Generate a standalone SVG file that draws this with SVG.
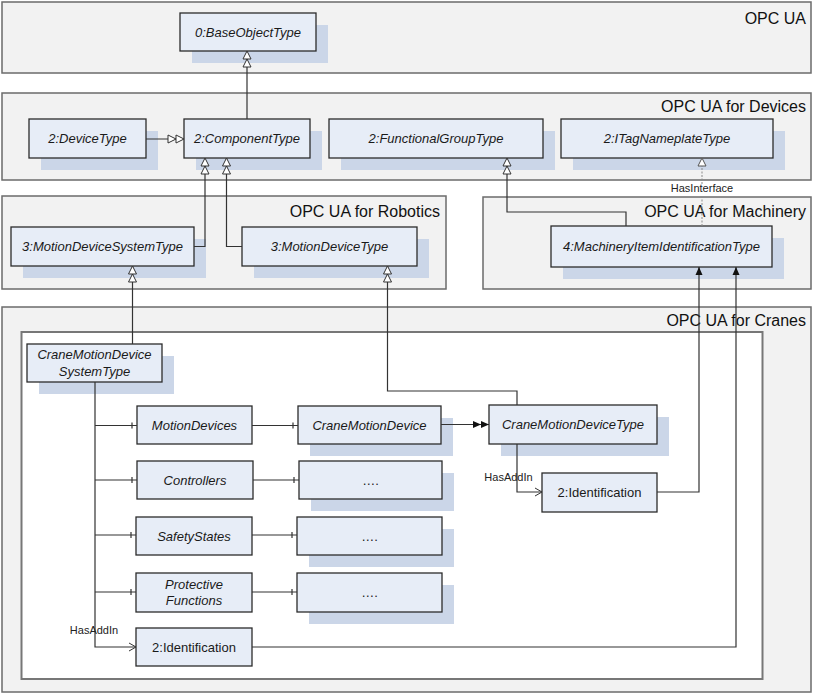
<svg xmlns="http://www.w3.org/2000/svg" width="814" height="695" viewBox="0 0 814 695">
<style>
.pkg{fill:#f2f2f2;stroke:#6b6b6b;stroke-width:1.5}
.inner{fill:#ffffff;stroke:#777;stroke-width:2}
.ttl{font-family:"Liberation Sans",Arial,sans-serif;font-size:16px;fill:#111;text-anchor:end}
.box{fill:#e7edf7;stroke:#2b2b2b;stroke-width:1.3}
.sh{fill:#cbd6e8}
.t{font-family:"Liberation Sans",Arial,sans-serif;font-size:13px;fill:#1a1a1a;text-anchor:middle}
.i{font-style:italic}
.c{fill:none;stroke:#333;stroke-width:1.2}
.lbl{font-family:"Liberation Sans",Arial,sans-serif;font-size:11px;fill:#222;text-anchor:middle}
</style>
<defs>
<marker id="sub" markerUnits="userSpaceOnUse" viewBox="-1 -1 18 10" refX="16" refY="4" markerWidth="18" markerHeight="10" orient="auto">
<path d="M0,0 L8,4 L0,8 Z M8,0 L16,4 L8,8 Z" fill="#fff" stroke="#333" stroke-width="1"/>
</marker>
<marker id="iface" markerUnits="userSpaceOnUse" viewBox="-1 -1 10 10" refX="8" refY="4" markerWidth="10" markerHeight="10" orient="auto">
<path d="M0,0 L8,4 L0,8 Z" fill="#fff" stroke="#555" stroke-width="1"/>
</marker>
<marker id="typedef" markerUnits="userSpaceOnUse" viewBox="0 0 16 8" refX="16" refY="4" markerWidth="16" markerHeight="8" orient="auto">
<path d="M0,0.5 L8,4 L0,7.5 Z M8,0.5 L16,4 L8,7.5 Z" fill="#111"/>
</marker>
<marker id="fill" markerUnits="userSpaceOnUse" viewBox="0 0 8 8" refX="8" refY="4" markerWidth="8" markerHeight="8" orient="auto">
<path d="M0,0.5 L8,4 L0,7.5 Z" fill="#111"/>
</marker>
<marker id="open" markerUnits="userSpaceOnUse" viewBox="-1 -1 9 10" refX="7" refY="4" markerWidth="9" markerHeight="10" orient="auto">
<path d="M0,0 L7,4 L0,8" fill="none" stroke="#333" stroke-width="1"/>
</marker>
<marker id="tick" markerUnits="userSpaceOnUse" viewBox="0 0 10 10" refX="10" refY="5" markerWidth="10" markerHeight="10" orient="auto">
<path d="M5,2 V8" stroke="#333" stroke-width="1.2"/>
</marker>
</defs>
<rect width="814" height="695" fill="#fff"/>
<g id="packages">
<rect class="pkg" x="2" y="2" width="809" height="71"/>
<text class="ttl" x="806" y="24">OPC UA</text>
<rect class="pkg" x="2" y="93" width="809" height="87"/>
<text class="ttl" x="806" y="112">OPC UA for Devices</text>
<rect class="pkg" x="2" y="196" width="444" height="93"/>
<text class="ttl" x="440" y="217">OPC UA for Robotics</text>
<rect class="pkg" x="483" y="197" width="328" height="92"/>
<text class="ttl" x="806" y="217">OPC UA for Machinery</text>
<rect class="pkg" x="2" y="307" width="809" height="385"/>
<text class="ttl" x="806" y="326">OPC UA for Cranes</text>
<rect class="inner" x="21.5" y="332" width="741" height="347"/>
</g>
<g id="BaseObjectType"><rect class="sh" x="192" y="25" width="136" height="38"/><rect class="box" x="180" y="13" width="136" height="38"/><text class="t i" x="248" y="36.5">0:BaseObjectType</text></g>
<g id="DeviceType"><rect class="sh" x="41" y="131" width="117" height="39"/><rect class="box" x="29" y="119" width="117" height="39"/><text class="t i" x="87.5" y="143">2:DeviceType</text></g>
<g id="ComponentType"><rect class="sh" x="196" y="131" width="126" height="39"/><rect class="box" x="184" y="119" width="126" height="39"/><text class="t i" x="247" y="143">2:ComponentType</text></g>
<g id="FunctionalGroupType"><rect class="sh" x="341" y="131" width="214" height="39"/><rect class="box" x="329" y="119" width="214" height="39"/><text class="t i" x="436" y="143">2:FunctionalGroupType</text></g>
<g id="ITagNameplateType"><rect class="sh" x="573" y="131" width="212" height="39"/><rect class="box" x="561" y="119" width="212" height="39"/><text class="t i" x="667" y="143">2:ITagNameplateType</text></g>
<g id="MotionDeviceSystemType"><rect class="sh" x="23" y="239" width="183" height="39"/><rect class="box" x="11" y="227" width="183" height="39"/><text class="t i" x="102.5" y="251">3:MotionDeviceSystemType</text></g>
<g id="MotionDeviceType"><rect class="sh" x="254" y="239" width="175" height="39"/><rect class="box" x="242" y="227" width="175" height="39"/><text class="t i" x="329.5" y="251">3:MotionDeviceType</text></g>
<g id="MachineryItemIdentificationType"><rect class="sh" x="563" y="238" width="221" height="41"/><rect class="box" x="551" y="226" width="221" height="41"/><text class="t i" x="661.5" y="251">4:MachineryItemIdentificationType</text></g>
<g id="CraneMotionDeviceSystemType"><rect class="sh" x="39" y="356" width="135" height="38"/><rect class="box" x="27" y="344" width="135" height="38"/><text class="t i" x="94.5" y="359">CraneMotionDevice</text><text class="t i" x="94.5" y="376">SystemType</text></g>
<g id="MotionDevices"><rect class="box" x="137" y="406" width="115" height="38"/><text class="t i" x="194.5" y="429.5">MotionDevices</text></g>
<g id="Controllers"><rect class="box" x="137" y="461" width="116" height="38"/><text class="t i" x="195" y="484.5">Controllers</text></g>
<g id="SafetyStates"><rect class="box" x="136" y="517" width="116" height="38"/><text class="t i" x="194" y="540.5">SafetyStates</text></g>
<g id="ProtectiveFunctions"><rect class="box" x="136" y="573" width="116" height="39"/><text class="t i" x="194" y="588.5">Protective</text><text class="t i" x="194" y="604.5">Functions</text></g>
<g id="Identification2"><rect class="box" x="136" y="628" width="116" height="38"/><text class="t" x="194" y="651.5">2:Identification</text></g>
<g id="CraneMotionDevice"><rect class="sh" x="310" y="418" width="143" height="38"/><rect class="box" x="298" y="406" width="143" height="38"/><text class="t i" x="369.5" y="429.5">CraneMotionDevice</text></g>
<g id="CraneMotionDeviceType"><rect class="sh" x="501" y="417" width="168" height="39"/><rect class="box" x="489" y="405" width="168" height="39"/><text class="t i" x="573" y="429">CraneMotionDeviceType</text></g>
<g id="Identification1"><rect class="box" x="542" y="473" width="115" height="39"/><text class="t" x="599.5" y="497">2:Identification</text></g>
<g id="Dots1"><rect class="sh" x="311" y="473" width="143" height="38"/><rect class="box" x="299" y="461" width="143" height="38"/><text class="t" x="370.5" y="484.5">….</text></g>
<g id="Dots2"><rect class="sh" x="309" y="529" width="145" height="38"/><rect class="box" x="297" y="517" width="145" height="38"/><text class="t" x="369.5" y="540.5">….</text></g>
<g id="Dots3"><rect class="sh" x="309" y="585" width="145" height="39"/><rect class="box" x="297" y="573" width="145" height="39"/><text class="t" x="369.5" y="597">….</text></g>
<g id="connectors">
<path class="c" d="M247,119 V51" marker-end="url(#sub)"/>
<path class="c" d="M146,139 H184" marker-end="url(#sub)"/>
<path class="c" d="M194,246.5 H205 V158" marker-end="url(#sub)"/>
<path class="c" d="M242,246.5 H226.5 V158" marker-end="url(#sub)"/>
<path class="c" d="M626,226 V212 H507 V158" marker-end="url(#sub)"/>
<path d="M702,226 V197 M702,184 V158" fill="none" stroke="#8a8a8a" stroke-width="1" stroke-dasharray="2,1.5" marker-end="url(#iface)"/>
<text class="lbl" x="702" y="192">HasInterface</text>
<path class="c" d="M132.5,344 V266" marker-end="url(#sub)"/>
<path class="c" d="M517,405 V391 H387.5 V266" marker-end="url(#sub)"/>
<path class="c" d="M441,424.5 H489" marker-end="url(#typedef)"/>
<path class="c" d="M95,382 V647 H136" stroke-width="1.6" marker-end="url(#open)"/>
<text class="lbl" x="94" y="634">HasAddIn</text>
<path class="c" d="M95,425.5 H137" marker-end="url(#tick)"/>
<path class="c" d="M95,480 H137" marker-end="url(#tick)"/>
<path class="c" d="M95,535 H136" marker-end="url(#tick)"/>
<path class="c" d="M95,592 H136" marker-end="url(#tick)"/>
<path class="c" d="M252,425.5 H298" marker-end="url(#tick)"/>
<path class="c" d="M253,480 H299" marker-end="url(#tick)"/>
<path class="c" d="M252,535 H297" marker-end="url(#tick)"/>
<path class="c" d="M252,592 H297" marker-end="url(#tick)"/>
<path class="c" d="M517,444 V492 H542" marker-end="url(#open)"/>
<text class="lbl" x="508.5" y="481">HasAddIn</text>
<path class="c" d="M657,492 H699 V267" marker-end="url(#fill)"/>
<path class="c" d="M252,647 H736 V267" marker-end="url(#fill)"/>
</g>
</svg>
